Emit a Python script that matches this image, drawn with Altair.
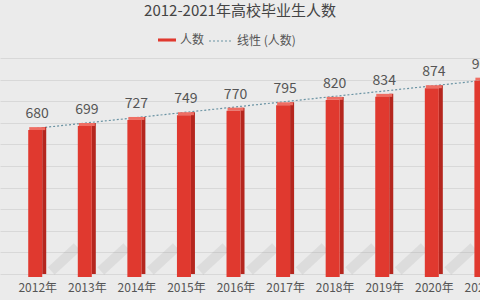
import json
import altair as alt
import pandas as pd

years = [2012, 2013, 2014, 2015, 2016, 2017, 2018, 2019, 2020, 2021]
values = [680, 699, 727, 749, 770, 795, 820, 834, 874, 909]
year_labels = ["2012年", "2013年", "2014年", "2015年", "2016年",
               "2017年", "2018年", "2019年", "2020年", "2021年"]
series_bar = "人数"
series_trend = "线性 (人数)"
title_text = "2012-2021年高校毕业生人数"
grid_values = [0, 100, 200, 300, 400, 500, 600, 700, 800, 900, 1000]

df = pd.DataFrame({"year": years, "value": values})
df["series"] = series_bar

FONT = "Noto Sans CJK SC"
BG = "#ebebeb"
RED = "#e0392f"
RED_DARK = "#b5261e"
RED_LIGHT = "#ef6e63"
TREND = "#6a93a3"
TXT = "#555555"

label_expr = f"{json.dumps(year_labels, ensure_ascii=False)}[datum.value - {years[0]}]"

# the view is 480 px wide; the x scale runs on past its right edge so the
# last year is cut off, as in the reference
STEP = 50.56
x_dom = [2011.35, 2021.5]
x_scale = alt.Scale(domain=x_dom, range=[0, (x_dom[1] - x_dom[0]) * STEP],
                    nice=False, zero=False)
y_scale = alt.Scale(domain=[0, 1000], nice=False, zero=True)

x_enc = alt.X(
    "year:Q",
    scale=x_scale,
    axis=alt.Axis(
        values=years, tickCount=len(years) + 2, labelExpr=label_expr, title=None,
        grid=False, ticks=False, domain=False, labelPadding=8, labelFontSize=12,
        labelColor=TXT, labelFont=FONT, labelFlush=False, labelOverlap=False,
    ),
)
y_enc = alt.Y(
    "value:Q",
    scale=y_scale,
    axis=alt.Axis(
        values=grid_values, tickCount=len(grid_values) + 2, labels=False,
        ticks=False, domain=False, grid=True, gridColor="#d8d8d8", gridWidth=1,
        title=None,
    ),
)

base = alt.Chart(df)

shadow = base.mark_rule(
    color="#7a7a7a", opacity=0.13, strokeWidth=10, strokeCap="butt",
    xOffset=14, x2Offset=40, yOffset=-3, y2Offset=-27,
).encode(x=x_enc, x2="year:Q", y=alt.datum(0), y2=alt.datum(0))

trend = base.transform_regression(
    "year", "value", extent=[years[0], years[-1]]
).transform_calculate(
    trend_series=json.dumps(series_trend, ensure_ascii=False)
).mark_line(strokeDash=[2, 2], strokeWidth=1.2).encode(
    x=x_enc,
    y=y_enc,
    stroke=alt.Stroke(
        "trend_series:N",
        scale=alt.Scale(domain=[series_trend], range=[TREND]),
        legend=alt.Legend(
            orient="none", legendX=208, legendY=-30, title=None,
            symbolType="stroke", symbolSize=576, symbolDash=[2, 2],
            symbolStrokeWidth=1.2, labelFontSize=12, labelColor=TXT,
            labelFont=FONT, labelOffset=3, padding=0,
        ),
    ),
)

side = base.mark_bar(size=4, xOffset=7, color=RED_DARK).encode(x=x_enc, y=y_enc)

top_face = base.mark_bar(size=16, xOffset=0, color=RED_LIGHT, y2Offset=3).encode(
    x=x_enc, y=y_enc, y2="value:Q"
)

front = base.mark_bar(size=14, xOffset=-2, yOffset=3).encode(
    x=x_enc,
    y=y_enc,
    color=alt.Color(
        "series:N",
        scale=alt.Scale(domain=[series_bar], range=[RED]),
        legend=alt.Legend(
            orient="none", legendX=158, legendY=-27, title=None,
            symbolType="M-1,-0.17H1V0.17H-1Z", symbolSize=324,
            symbolStrokeWidth=0, labelFontSize=12, labelColor=TXT,
            labelFont=FONT, labelOffset=4, padding=0,
        ),
    ),
)

labels = base.mark_text(
    dy=-9, baseline="alphabetic", fontSize=14, color=TXT, font=FONT
).encode(x=x_enc, y=y_enc, text="value:Q")

chart = alt.layer(shadow, trend, side, top_face, front, labels).properties(
    width=480,
    height=216,
    padding={"left": 0, "top": 58, "right": 0, "bottom": 26},
    autosize=alt.AutoSizeParams(type="none"),
    background=BG,
    title=alt.TitleParams(
        title_text, fontSize=15, color="#444444", font=FONT,
        fontWeight="normal", anchor="middle", offset=9,
    ),
).configure(font=FONT).configure_view(stroke=None)

chart.save("out.html", embed_options={"renderer": "svg", "actions": False})
